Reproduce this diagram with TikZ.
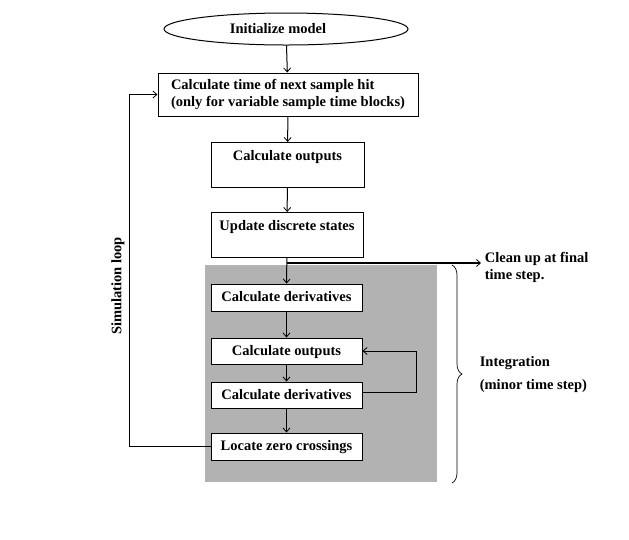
\documentclass[tikz,border=0pt]{standalone}
\usepackage{fontspec}
\setmainfont{Liberation Serif}
\usetikzlibrary{calc, arrows.meta, shapes.geometric, decorations.pathreplacing}

\begin{document}
\begin{tikzpicture}[x=1pt, y=-1pt, line width=1pt,
		txt/.style={font=\bfseries\fontsize{14.5}{17}\selectfont},
		procbox/.style={txt, draw, fill=white, inner sep=0pt, minimum width=151pt, text height=9pt, text depth=1pt},
		topbox/.style={procbox, text height=18pt, text depth=27pt},
		flow/.style={-{Straight Barb[length=4pt, width=7pt, line width=0.8pt]}}]
			\useasboundingbox (0,0) rectangle (629,539);
			\fill[gray!60] (205,265) rectangle (437,482);
			\node[txt, draw, ellipse, inner sep=0pt, minimum width=244pt, minimum height=32pt] (init) at (286,29) {Initialize model\kern16pt};
			\node[procbox, minimum width=260pt, minimum height=43pt, inner xsep=13pt, align=left, text height=, text depth=] (calctime) at (288,94.5) {Calculate time of next sample hit\\(only for variable sample time blocks)};
			\node[topbox, minimum width=153pt, anchor=north] (outA) at (287.5,142) {Calculate outputs};
			\node[topbox, minimum width=152pt, anchor=north] (update) at (287,212) {Update discrete states};
			\node[procbox, minimum height=27pt] (derivA) at (286.5,297.5) {Calculate derivatives};
			\node[procbox, minimum height=26pt] (outB) at (286.5,351) {Calculate outputs};
			\node[procbox, minimum height=26pt] (derivB) at (286.5,395) {Calculate derivatives};
			\node[procbox, minimum height=27pt] (zero) at (286.5,446.5) {Locate zero crossings};
			\node[txt, anchor=west, align=left] (cleanup) at (481,267) {Clean up at final\\time step.};
			\node[txt, anchor=west, align=left] (integ) at (476,375) {Integration\\[6pt](minor time step)};
			\node[txt, rotate=90] (simloop) at (118,286) {Simulation loop};
			\coordinate (split) at ($(update.south)+(0,5)$);
			\coordinate (loopL) at (129,0);
			\draw[flow] (init) -- (calctime);
			\draw[flow] (calctime) -- (outA);
			\draw[flow] (outA) -- (update);
			\draw[flow] (update) -- (derivA);
			\draw[flow] (derivA) -- (outB);
			\draw[flow] (outB) -- (derivB);
			\draw[flow] (derivB) -- (zero);
			\draw[flow, line width=2.2pt] (split) -- (split -| cleanup.west);
			\draw[flow] ([yshift=3pt]derivB.east) -- ++(54,0) |- (outB.east);
			\draw[flow] (zero.west) -- (zero.west -| loopL) |- (calctime.west);
			\draw[line width=0.7pt, decorate, decoration={brace, amplitude=10pt}] (452,265) -- (452,483);
		\end{tikzpicture}
\end{document}
